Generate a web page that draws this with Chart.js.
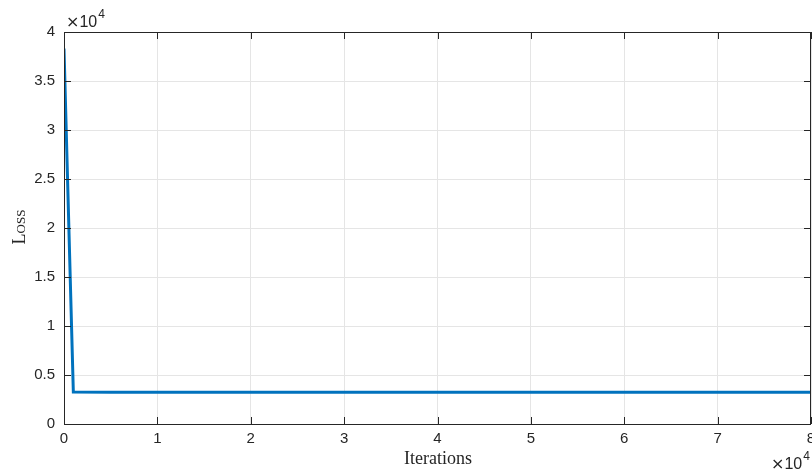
<!DOCTYPE html>
<html>
<head>
<meta charset="utf-8">
<script src="https://cdn.jsdelivr.net/npm/chart.js@4"></script>
<style>
html,body{margin:0;padding:0;background:#fff;}
#wrap{width:812px;height:470px;}
</style>
</head>
<body>
<div id="wrap"><canvas id="c" width="812" height="470"></canvas></div>
<script>
const iterations = [0, 1000, 5000, 10000, 15000, 20000, 25000, 30000, 35000, 40000, 45000, 50000, 55000, 60000, 65000, 70000, 75000, 80000];
const lossValues = [38300, 3260, 3240, 3245, 3235, 3250, 3240, 3245, 3250, 3240, 3245, 3235, 3240, 3245, 3240, 3235, 3240, 3240];
const xTicks = [0, 10000, 20000, 30000, 40000, 50000, 60000, 70000, 80000];
const yTicks = [0, 5000, 10000, 15000, 20000, 25000, 30000, 35000, 40000];
const xTitle = 'Iterations';
const yTitle = 'Loss';
const expLabel = '4';

const axisColor = '#262626';
const gridColor = '#e5e5e5';
const tickFont = {family: '"Liberation Sans", Arial, sans-serif', size: 15};

const points = iterations.map((x, i) => ({x: x, y: lossValues[i]}));

function drawExp(ctx, x, baseline) {
  ctx.font = '16px "DejaVu Sans", sans-serif';
  ctx.fillText('\u00d7', x, baseline);
  let w = ctx.measureText('\u00d7').width;
  ctx.font = '16px "Liberation Sans", Arial, sans-serif';
  ctx.fillText('10', x + w, baseline);
  w += ctx.measureText('10').width;
  ctx.font = '12px "Liberation Sans", Arial, sans-serif';
  ctx.fillText(expLabel, x + w + 1, baseline - 9);
}

const decor = {
  id: 'decor',
  afterDatasetsDraw(chart) {
    const ctx = chart.ctx;
    const a = chart.chartArea;
    const xs = chart.scales.x, ys = chart.scales.y;
    ctx.save();
    ctx.strokeStyle = axisColor;
    ctx.lineWidth = 1;
    ctx.beginPath();
    xTicks.forEach(v => {
      const px = Math.round(xs.getPixelForValue(v)) + 0.5;
      ctx.moveTo(px, a.bottom); ctx.lineTo(px, a.bottom - 7);
      ctx.moveTo(px, a.top); ctx.lineTo(px, a.top + 7);
    });
    yTicks.forEach(v => {
      const py = Math.round(ys.getPixelForValue(v)) + 0.5;
      ctx.moveTo(a.left, py); ctx.lineTo(a.left + 7, py);
      ctx.moveTo(a.right, py); ctx.lineTo(a.right - 7, py);
    });
    ctx.stroke();
    ctx.strokeRect(Math.round(a.left) + 0.5, Math.round(a.top) + 0.5, Math.round(a.right - a.left) - 1, Math.round(a.bottom - a.top));
    ctx.fillStyle = axisColor;
    ctx.font = '18px "Liberation Serif", "Times New Roman", serif';
    ctx.textAlign = 'center';
    ctx.textBaseline = 'middle';
    ctx.fillText(xTitle, (a.left + a.right) / 2 + 0.5, 459);
    ctx.save();
    ctx.translate(20, (a.top + a.bottom) / 2 - 1);
    ctx.rotate(-Math.PI / 2);
    try { ctx.fontVariantCaps = 'small-caps'; } catch (e) {}
    ctx.fillText(yTitle, 0, 0);
    ctx.restore();
    ctx.textAlign = 'left';
    ctx.textBaseline = 'alphabetic';
    drawExp(ctx, 66, 27);
    drawExp(ctx, 771, 469);
    ctx.restore();
  }
};

new Chart(document.getElementById('c'), {
  type: 'scatter',
  data: {
    datasets: [{
      data: points,
      showLine: true,
      borderColor: '#0072BD',
      borderWidth: 3,
      pointRadius: 0,
      tension: 0,
      fill: false
    }]
  },
  options: {
    responsive: false,
    animation: false,
    devicePixelRatio: 1,
    layout: {padding: {top: 32, right: 1, left: 0, bottom: 0}},
    plugins: {legend: {display: false}, tooltip: {enabled: false}},
    scales: {
      x: {
        type: 'linear', min: 0, max: 80000,
        afterBuildTicks: s => { s.ticks = xTicks.map(v => ({value: v})); },
        afterFit: s => { s.height = 46; s.paddingLeft = 0; s.paddingRight = 0; },
        grid: {color: gridColor, tickLength: 0, drawTicks: false},
        border: {display: false},
        ticks: {font: tickFont, color: axisColor, padding: 6, maxRotation: 0,
          callback: v => String(v / 10000)}
      },
      y: {
        type: 'linear', min: 0, max: 40000,
        afterBuildTicks: s => { s.ticks = yTicks.map(v => ({value: v})); },
        afterFit: s => { s.width = 64; s.paddingTop = 0; s.paddingBottom = 0; },
        grid: {color: gridColor, tickLength: 0, drawTicks: false},
        border: {display: false},
        ticks: {font: tickFont, color: axisColor, padding: 9,
          callback: v => String(v / 10000)}
      }
    }
  },
  plugins: [decor]
});
</script>
</body>
</html>
